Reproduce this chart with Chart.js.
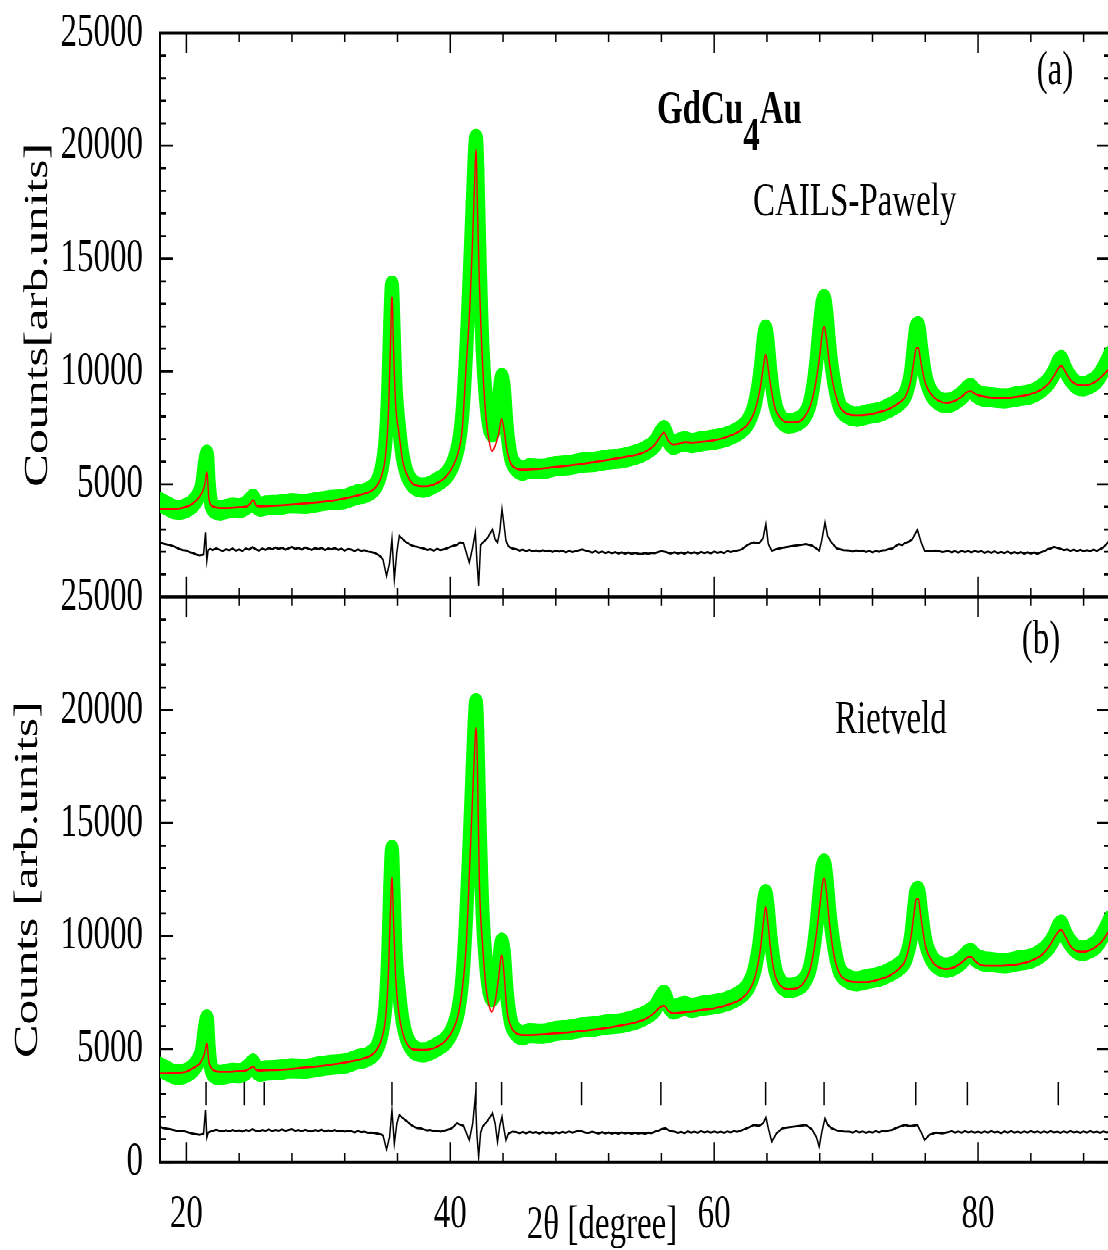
<!DOCTYPE html>
<html>
<head>
<meta charset="utf-8">
<title>GdCu4Au powder pattern</title>
<script src="https://cdn.jsdelivr.net/npm/chart.js@4.4.1/dist/chart.umd.min.js"></script>
<style>
  html, body { margin: 0; padding: 0; background: #fff; overflow: hidden; width: 1108px; height: 1250px; }
  /* the original figure is stretched vertically, so the whole drawing is too */
  #stretch { position: absolute; left: 0; top: 0; width: 1120px; height: 875px; transform: scaleY(1.45); transform-origin: 0 0; }
  #panelA { position: absolute; left: 0; top: -20px; }
  #panelB { position: absolute; left: 0; top: 366px; }
</style>
</head>
<body>
<div id="stretch">
  <canvas id="panelA" width="1120" height="480"></canvas>
  <canvas id="panelB" width="1120" height="509"></canvas>
</div>
<script>
(function () {
  'use strict';

  // 2theta grid of observed / calculated profiles
  var fitTheta = [
    18, 18.5, 19, 19.5, 20, 20.5, 21,
    21.2, 21.4, 21.55, 21.7, 21.9, 22.2, 22.6, 23, 23.5, 24, 24.5,
    24.85, 25.05, 25.3, 25.6, 26,
    27, 28, 29, 30, 31, 32, 33, 33.5, 34, 34.4, 34.8,
    35.1, 35.3, 35.45, 35.58, 35.7, 35.85, 36.1, 36.4, 36.7, 37.2, 38, 39,
    39.7, 40.2, 40.6, 40.9, 41.2, 41.45, 41.7, 41.85, 41.95, 42.05, 42.2, 42.45, 42.7, 42.95, 43.15, 43.4, 43.65, 43.9, 44.05, 44.3, 44.6,
    45, 45.5, 46, 47, 48, 49, 50, 51, 52, 53, 54,
    54.8, 55.5, 55.9, 56.2, 56.5, 56.9, 57.4, 57.8, 58.3, 59, 60, 61, 62,
    62.6, 63.1, 63.5, 63.75, 63.9, 64.05, 64.3, 64.6, 65, 65.6, 66.2,
    66.8, 67.3, 67.7, 68, 68.2, 68.33, 68.5, 68.75, 69.1, 69.5, 70,
    70.8, 71.6, 72.5, 73.3, 74, 74.5, 74.9, 75.15, 75.3, 75.45, 75.7, 76,
    76.5, 77, 77.6, 78.2, 78.8, 79.2, 79.45, 79.8, 80.3, 81,
    82, 83, 84, 84.8, 85.4, 85.8, 86.1, 86.3, 86.6, 87, 87.5, 88, 88.5, 89, 89.5, 90
  ];

  // observed counts (same measurement in both panels)
  var obsCounts = [
    4200, 4050, 3900, 3870, 3950, 4150, 4600,
    5000, 5900, 6300, 5000, 4100, 3880, 3850, 3900, 3950, 3930, 4050,
    4250, 4350, 4100, 4000, 4050,
    4080, 4150, 4130, 4220, 4300, 4350, 4550, 4600, 4750, 5000, 5700,
    7000, 9300, 12200, 13800, 12000, 9400, 7600, 6200, 5500, 5000, 4850, 5100,
    5400, 5900, 6700, 8000, 10800, 14000, 17500, 19500, 20300, 19000, 15500, 11000, 8800, 7600, 7300, 7600, 8600, 9700, 9300, 7400, 6200,
    5750, 5600, 5700, 5680, 5800, 5850, 5950, 6000, 6100, 6150, 6300,
    6500, 6800, 7200, 7400, 7000, 6750, 6850, 6900, 6820, 6900, 6980, 7120, 7420,
    7800, 8600, 10000, 11400, 11850, 11300, 9800, 8600, 7950, 7700, 7760,
    8000, 8700, 10200, 12000, 13000, 13200, 12600, 11000, 9500, 8500, 8150,
    8000, 8100, 8200, 8400, 8650, 9000, 9900, 11200, 11900, 12000, 11000, 9800,
    9000, 8700, 8600, 8700, 8950, 9200, 9250, 9050, 8900, 8850,
    8800, 8900, 9000, 9250, 9600, 10000, 10400, 10500, 10100, 9700, 9400, 9350, 9450, 9650, 10100, 10700
  ];

  // (a) CAILS-Pawley calculated profile
  var calcPawley = [
    3890, 3890, 3900, 3930, 4000, 4150, 4450,
    4650, 5000, 5520, 4400, 4060, 3980, 3950, 3950, 3960, 3980, 4000,
    4150, 4300, 4050, 4020, 4030,
    4060, 4100, 4150, 4200, 4270, 4370, 4500, 4580, 4700, 4900, 5400,
    6300, 8000, 10800, 13300, 11000, 8600, 7300, 6000, 5450, 5000, 4900, 5050,
    5350, 5800, 6400, 7400, 10200, 12500, 16000, 18500, 19800, 17500, 14000, 10300, 8000, 6900, 6480, 6700, 7200, 7880, 7500, 6500, 5900,
    5700, 5650, 5660, 5700, 5760, 5830, 5900, 5990, 6080, 6180, 6290,
    6450, 6750, 7100, 7290, 6950, 6760, 6800, 6870, 6850, 6880, 6950, 7100, 7380,
    7700, 8300, 9300, 10300, 10750, 10300, 9300, 8400, 7950, 7740, 7750,
    7950, 8500, 9500, 10700, 11700, 11980, 11500, 10300, 9200, 8450, 8150,
    8050, 8080, 8200, 8350, 8600, 8900, 9600, 10500, 11000, 11050, 10300, 9500,
    8950, 8700, 8610, 8680, 8900, 9100, 9120, 9000, 8900, 8840,
    8820, 8880, 9000, 9200, 9500, 9850, 10150, 10250, 10000, 9620, 9420, 9380, 9430, 9580, 9850, 10150
  ];

  // (b) Rietveld calculated profile
  var calcRietveld = [
    3920, 3920, 3930, 3950, 4000, 4150, 4350,
    4550, 4850, 5250, 4450, 4150, 4020, 3990, 3990, 4000, 4020, 4050,
    4150, 4220, 4070, 4050, 4060,
    4080, 4120, 4180, 4230, 4310, 4400, 4520, 4600, 4720, 4950, 5450,
    6400, 8200, 10800, 12600, 10700, 8300, 6600, 5700, 5250, 4980, 4960, 5100,
    5400, 5850, 6500, 7600, 9500, 12800, 16300, 18300, 19200, 17800, 12500, 9600, 7800, 6900, 6650, 7100, 8100, 9150, 8500, 6700, 6000,
    5700, 5620, 5620, 5650, 5700, 5740, 5800, 5870, 5950, 6050, 6170,
    6330, 6620, 6850, 6920, 6700, 6580, 6600, 6640, 6660, 6720, 6800, 6950, 7200,
    7550, 8200, 9400, 10700, 11270, 10700, 9300, 8300, 7820, 7650, 7680,
    7950, 8600, 9900, 11300, 12300, 12550, 12000, 10500, 9100, 8350, 8050,
    7960, 7960, 8080, 8250, 8550, 8950, 9900, 11000, 11600, 11650, 10700, 9600,
    8900, 8620, 8540, 8620, 8850, 9050, 9080, 8880, 8700, 8680,
    8690, 8750, 8900, 9150, 9550, 9950, 10200, 10270, 10000, 9560, 9330, 9300, 9380, 9550, 9850, 10300
  ];

  // 2theta grid of the difference curves
  var diffTheta = [
    18, 18.25, 18.5, 18.75, 19, 19.25, 19.5, 19.75, 20, 20.25, 20.5, 20.75, 21,
    21.3, 21.45, 21.55, 21.65, 21.8,
    22, 22.25, 22.5, 22.75, 23, 23.25, 23.5, 23.75, 24, 24.25, 24.5, 24.75, 25, 25.25, 25.5, 25.75, 26, 26.25, 26.5, 26.75,
    27, 27.25, 27.5, 27.75, 28, 28.25, 28.5, 28.75, 29, 29.25, 29.5, 29.75, 30, 30.25, 30.5, 30.75, 31, 31.25, 31.5, 31.75,
    32, 32.25, 32.5, 32.75, 33, 33.25, 33.5, 33.75, 34,
    34.25, 34.5, 34.75, 34.9, 35.17, 35.4, 35.58, 35.76, 35.95, 36.14, 36.4, 36.6, 36.8,
    37, 37.25, 37.5, 37.75, 38, 38.25, 38.5, 38.75, 39, 39.25, 39.5, 39.75, 40, 40.25, 40.5, 40.75, 41,
    41.44, 41.7, 41.9, 42.02, 42.15, 42.3, 42.45, 42.8, 43.2, 43.4, 43.58, 43.75, 43.92, 44.05, 44.22, 44.4, 44.7,
    45, 45.25, 45.5, 45.75, 46, 46.25, 46.5, 46.75, 47, 47.25, 47.5, 47.75, 48, 48.25, 48.5, 48.75, 49, 49.25, 49.5, 49.75,
    50, 50.25, 50.5, 50.75, 51, 51.25, 51.5, 51.75, 52, 52.25, 52.5, 52.75, 53, 53.25, 53.5, 53.75, 54, 54.25, 54.5, 54.75,
    55, 55.25, 55.5, 55.75, 56,
    56.3, 56.7,
    57, 57.25, 57.5, 57.75, 58, 58.25, 58.5, 58.75, 59, 59.25, 59.5, 59.75, 60, 60.25, 60.5, 60.75, 61, 61.25, 61.5, 61.75,
    62, 62.25, 62.5, 62.75, 63,
    63.4, 63.7, 63.92, 64.1, 64.37, 64.7, 65.17, 65.6,
    66, 66.5, 66.95, 67.4, 67.75, 67.96, 68.15, 68.4, 68.6, 68.9, 69.3, 69.8,
    70.25, 70.5, 70.75, 71, 71.25, 71.5, 71.75, 72, 72.25, 72.5, 72.75, 73, 73.25, 73.5, 73.75, 74, 74.25, 74.5, 74.75, 75,
    75.4, 75.7, 75.95, 76.3, 76.8, 77.3,
    77.75, 78, 78.25, 78.5, 78.75, 79, 79.25, 79.5, 79.75, 80, 80.25, 80.5, 80.75, 81, 81.25, 81.5, 81.75,
    82, 82.25, 82.5, 82.75, 83, 83.25, 83.5, 83.75, 84, 84.25, 84.5, 84.75, 85, 85.25, 85.5, 85.75,
    86, 86.25, 86.5, 86.75, 87, 87.25, 87.5, 87.75, 88, 88.25, 88.5, 88.75, 89, 89.25, 89.5, 89.75, 90
  ];

  // obs - calc, as plotted (offset baseline)
  var diffPawley = [
    2420, 2360, 2330, 2300, 2250, 2190, 2120, 2080, 2060, 1980, 1950, 1880, 1850,
    1880, 2860, 1620, 2080, 2130,
    2080, 2160, 2100, 2040, 2120, 2070, 2150, 2060, 2110, 2040, 2150, 2100, 2210, 2120, 2060, 2150, 2090, 2170, 2110, 2200,
    2130, 2190, 2100, 2160, 2220, 2130, 2180, 2100, 2200, 2140, 2090, 2170, 2120, 2180, 2080, 2150, 2110, 2170, 2090, 2140,
    2060, 2130, 2100, 2040, 2110, 2050, 2080, 2010, 1990,
    1960, 1880, 1780, 1650, 940, 1500, 2560, 800, 2000, 2710, 2560, 2450, 2380,
    2300, 2250, 2220, 2180, 2150, 2090, 2120, 2060, 2130, 2080, 2110, 2160, 2220, 2270, 2300, 2420, 2380,
    1535, 2200, 2860, 1600, 500, 2300, 2400, 2600, 3000, 2550, 2420, 2900, 3890, 3300, 2500, 2250, 2150,
    2120, 2060, 2100, 2030, 2090, 2020, 2070, 2010, 2080, 2030, 2060, 1990, 2060, 2010, 2050, 1980, 2040, 1990, 2030, 2070,
    2110, 2060, 2020, 1970, 2030, 1960, 2010, 1950, 2000, 1940, 1990, 1930, 1980, 1920, 1970, 1910, 1960, 1920, 1900, 1950,
    1910, 1960, 1940, 1990, 2030,
    2000, 1930,
    1980, 1930, 1970, 1920, 1990, 1940, 1980, 1930, 2000, 1950, 1990, 1940, 2010, 1960, 2000, 1950, 2040, 1990, 2030, 2060,
    2090, 2180, 2300, 2360, 2420,
    2380, 2600, 3230, 2350, 2050, 2120, 2180, 2220,
    2260, 2300, 2345, 2280, 2150, 2050, 2500, 3300, 2700, 2400, 2150, 2080,
    2060, 2010, 2070, 2020, 2060, 1990, 2040, 1980, 2040, 2000, 2070, 2080, 2130, 2150, 2250, 2345, 2300, 2400, 2450, 2550,
    2980, 2400, 2050, 2020, 2060, 1990,
    2040, 1980, 2030, 1970, 2040, 1990, 2030, 1980, 2040, 1990, 2030, 1960, 2010, 1960, 2020, 1950, 2000,
    1950, 2010, 1940, 1990, 1940, 1990, 1920, 1980, 1930, 1970, 1910, 1980, 2020, 2110, 2150, 2220,
    2180, 2140, 2080, 2110, 2050, 2100, 2040, 2090, 2030, 2080, 2040, 2100, 2050, 2120, 2200, 2350, 2560
  ];

  var diffRietveld = [
    1562, 1500, 1480, 1450, 1420, 1390, 1360, 1370, 1330, 1290, 1250, 1230, 1200,
    1250, 2300, 1093, 1300, 1341,
    1380, 1430, 1390, 1350, 1410, 1360, 1420, 1370, 1400, 1340, 1420, 1380, 1450, 1390, 1360, 1420, 1380, 1440, 1370, 1420,
    1390, 1440, 1380, 1420, 1450, 1380, 1420, 1360, 1430, 1380, 1350, 1420, 1380, 1430, 1350, 1400, 1370, 1420, 1350, 1390,
    1340, 1390, 1360, 1310, 1370, 1320, 1340, 1290, 1300,
    1280, 1250, 1220, 1180, 562, 1100, 2300, 827, 1700, 2080, 1950, 1850, 1760,
    1650, 1560, 1500, 1490, 1440, 1400, 1420, 1360, 1390, 1340, 1380, 1420, 1460, 1560, 1712, 1650, 1600,
    973, 1700, 2890, 1200, 235, 1300, 1562, 1800, 2155, 1700, 898, 1600, 2005, 1500, 973, 1250, 1341,
    1320, 1280, 1330, 1270, 1340, 1290, 1320, 1260, 1330, 1280, 1310, 1260, 1320, 1280, 1330, 1290, 1350, 1300, 1340, 1390,
    1350, 1300, 1290, 1340, 1300, 1260, 1320, 1270, 1310, 1260, 1300, 1250, 1310, 1270, 1300, 1250, 1300, 1260, 1290, 1250,
    1300, 1280, 1340, 1380, 1450,
    1490, 1360,
    1340, 1290, 1330, 1280, 1350, 1300, 1340, 1290, 1360, 1310, 1350, 1300, 1350, 1300, 1340, 1290, 1350, 1310, 1360, 1330,
    1390, 1440, 1500, 1560, 1637,
    1600, 1700, 1977, 1500, 898, 1250, 1490, 1530,
    1560, 1600, 1637, 1450, 1100, 677, 1300, 1933, 1650, 1490, 1400, 1350,
    1340, 1300, 1360, 1310, 1350, 1290, 1340, 1300, 1360, 1310, 1370, 1350, 1400, 1420, 1500, 1550, 1600, 1637, 1590, 1600,
    1637, 1300, 973, 1200, 1300, 1270,
    1320, 1360, 1300, 1350, 1290, 1360, 1310, 1350, 1300, 1340, 1290, 1350, 1300, 1360, 1310, 1340, 1280,
    1350, 1300, 1360, 1300, 1340, 1290, 1350, 1300, 1360, 1310, 1350, 1290, 1350, 1300, 1360, 1310,
    1340, 1290, 1350, 1300, 1360, 1310, 1340, 1290, 1350, 1300, 1360, 1310, 1340, 1290, 1350, 1310, 1341
  ];

  // Bragg reflection markers (Rietveld panel only)
  var braggTheta = [21.49, 24.39, 25.9, 35.58, 41.95, 43.89, 49.95, 55.96, 63.9, 68.33, 75.28, 79.19, 86.08];
  var braggLevel = 3035;

  var xLabelTicks = [20, 40, 60, 80];
  var yLabelTicksA = [5000, 10000, 15000, 20000, 25000];
  var yLabelTicksB = [0, 5000, 10000, 15000, 20000, 25000];

  var SERIF = "'Liberation Serif', 'Times New Roman', serif";
  var STRETCH = 1.45;

  function toPoints(xs, ys) {
    return xs.map(function (x, i) {
      return {x: x, y: ys[i]};
    });
  }

  function setTicks(values) {
    return function (scale) {
      scale.ticks = values.map(function (v) {
        return {value: v};
      });
    };
  }

  /**
   * Box, inward tick marks and annotations of one panel.
   * Text positions are canvas pixels (canvas A starts 20px above the page).
   */
  function framePlugin(panel) {
    return {
      id: 'frame_' + panel,
      beforeDatasetsDraw: function (chart) {
        var ctx = chart.ctx;
        var a = chart.chartArea;
        var xs = chart.scales.x;
        var ys = chart.scales.y;
        var t, v, p, len;

        ctx.save();
        ctx.strokeStyle = '#000';
        ctx.lineWidth = 2;
        ctx.strokeRect(a.left, a.top, a.right - a.left, a.bottom - a.top);

        // 2theta ticks every 4 degrees, top and bottom
        ctx.lineWidth = 1.5;
        for (t = 20; t <= 88; t += 4) {
          p = xs.getPixelForValue(t);
          len = (t % 20 === 0 ? 20 : 9) / STRETCH;
          ctx.beginPath();
          ctx.moveTo(p, a.top);
          ctx.lineTo(p, a.top + len);
          ctx.moveTo(p, a.bottom);
          ctx.lineTo(p, a.bottom - len);
          ctx.stroke();
        }

        // counts ticks every 1000, left and right
        ctx.lineWidth = 1.4;
        for (v = 0; v <= 25000; v += 1000) {
          p = ys.getPixelForValue(v);
          len = v % 5000 === 0 ? 13 : 6;
          ctx.beginPath();
          ctx.moveTo(a.left, p);
          ctx.lineTo(a.left + len, p);
          ctx.moveTo(a.right, p);
          ctx.lineTo(a.right - len, p);
          ctx.stroke();
        }
        ctx.restore();
      },
      afterDraw: function (chart) {
        var ctx = chart.ctx;
        var x;
        ctx.save();
        ctx.fillStyle = '#000';
        ctx.font = '33px ' + SERIF;
        ctx.textBaseline = 'middle';
        ctx.textAlign = 'center';

        if (panel === 'a') {
          ctx.fillText('(a)', 1055, 69.4);

          ctx.textAlign = 'left';
          ctx.textBaseline = 'alphabetic';
          ctx.fillText('CAILS-Pawely', 753, 168.3);

          // formula with subscript
          ctx.font = 'bold 33px ' + SERIF;
          x = 657;
          ctx.fillText('GdCu', x, 104.8);
          x += ctx.measureText('GdCu').width;
          ctx.fillText('4', x, 123.4);
          x += ctx.measureText('4').width;
          ctx.fillText('Au', x, 104.8);
        } else {
          ctx.fillText('(b)', 1041, 75.8);
          ctx.textAlign = 'left';
          ctx.textBaseline = 'alphabetic';
          ctx.fillText('Rietveld', 835, 139.7);
        }
        ctx.restore();
      }
    };
  }

  function buildPanel(canvasId, panel) {
    var isB = panel === 'b';
    var tickFont = {family: SERIF, size: 33};

    var datasets = [
      {
        label: isB ? 'Rietveld calc' : 'Pawley calc',
        data: toPoints(fitTheta, isB ? calcRietveld : calcPawley),
        borderColor: '#ff0000',
        borderWidth: 1.4,
        pointRadius: 0,
        cubicInterpolationMode: 'monotone',
        order: 0
      },
      {
        label: 'difference',
        data: toPoints(diffTheta, isB ? diffRietveld : diffPawley),
        borderColor: '#000000',
        borderWidth: 1.5,
        pointRadius: 0,
        order: 1
      },
      {
        label: 'observed',
        data: toPoints(fitTheta, obsCounts),
        borderColor: '#00ff00',
        backgroundColor: '#00ff00',
        borderWidth: 14,
        borderCapStyle: 'round',
        borderJoinStyle: 'round',
        pointRadius: 7,
        pointBorderWidth: 0,
        pointBackgroundColor: '#00ff00',
        cubicInterpolationMode: 'monotone',
        order: 3
      }
    ];

    if (isB) {
      datasets.push({
        type: 'scatter',
        label: 'Bragg positions',
        data: braggTheta.map(function (t) {
          return {x: t, y: braggLevel};
        }),
        pointStyle: 'line',
        pointRotation: 90,
        pointRadius: 8,
        pointBorderColor: '#000000',
        pointBorderWidth: 1.5,
        showLine: false,
        order: 2
      });
    }

    return new Chart(document.getElementById(canvasId), {
      type: 'line',
      data: {datasets: datasets},
      options: {
        responsive: false,
        animation: false,
        devicePixelRatio: 2,
        events: [],
        layout: {
          padding: isB ? {left: 0, right: 10, top: 45.72, bottom: 0} : {left: 0, right: 10, top: 42.76, bottom: 48.28}
        },
        plugins: {
          legend: {display: false},
          tooltip: {enabled: false}
        },
        scales: {
          x: {
            type: 'linear',
            min: 18,
            max: 90,
            display: isB,
            afterBuildTicks: setTicks(xLabelTicks),
            afterFit: function (scale) {
              scale.height = isB ? 73.62 : 0;
            },
            grid: {display: false, drawTicks: false},
            border: {display: false},
            ticks: {
              font: tickFont,
              color: '#000',
              padding: 16.75,
              maxRotation: 0,
              autoSkip: false,
              callback: function (v) {
                return String(v);
              }
            },
            title: {
              display: isB,
              text: '2\u03b8 [degree]\u2003\u2003',
              font: tickFont,
              color: '#000',
              padding: {top: 0, bottom: 9.7}
            }
          },
          y: {
            type: 'linear',
            min: 0,
            max: 25000,
            afterBuildTicks: setTicks(isB ? yLabelTicksB : yLabelTicksA),
            afterFit: function (scale) {
              scale.width = 160;
            },
            grid: {display: false, drawTicks: false},
            border: {display: false},
            ticks: {
              font: tickFont,
              color: '#000',
              padding: 17,
              autoSkip: false,
              callback: function (v) {
                return String(v);
              }
            },
            title: {
              display: true,
              text: isB ? 'Counts [arb.units]' : 'Counts[arb.units]',
              font: {family: SERIF, size: 34},
              color: '#000',
              padding: {top: isB ? 7.6 : 17.6, bottom: 0}
            }
          }
        }
      },
      plugins: [framePlugin(panel)]
    });
  }

  buildPanel('panelA', 'a');
  buildPanel('panelB', 'b');
})();
</script>
</body>
</html>
